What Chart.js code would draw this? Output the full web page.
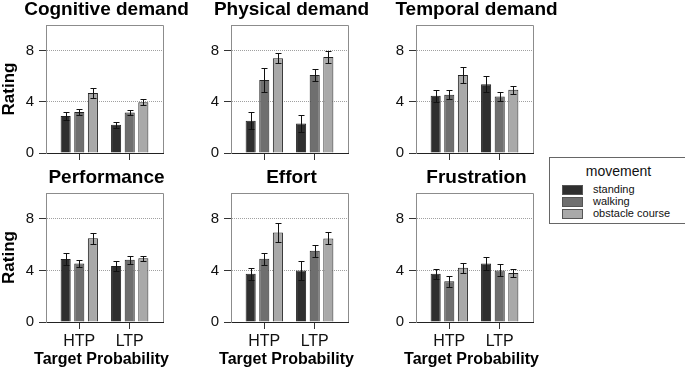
<!DOCTYPE html>
<html>
<head>
<meta charset="utf-8">
<script src="https://cdn.jsdelivr.net/npm/chart.js@4.4.1/dist/chart.umd.min.js"></script>
<style>
  body { margin: 0; background: #fff; font-family: 'Liberation Sans', Arial, sans-serif; }
  #wrap { position: relative; width: 685px; height: 370px; overflow: hidden; background: #fff; }
  #wrap canvas { position: absolute; }
  #legend { position: absolute; left: 549px; top: 157px; width: 140px; height: 67px; border: 1px solid #666; box-sizing: border-box; color: #111; }
  #legend .lt { position: absolute; left: 0; width: 137px; top: 5px; text-align: center; font-size: 14px; }
  #legend .item { position: absolute; left: 12px; font-size: 11px; line-height: 12px; }
  #legend .sw { position: absolute; left: 0; top: 2px; width: 19px; height: 8px; border: 1px solid #555; }
  #legend .txt { position: absolute; left: 31px; top: 0; white-space: nowrap; }
</style>
</head>
<body>
<div id="wrap">
  <div id="legend"><div class="lt">movement</div></div>
</div>
<script>
// categories
const groups = ['HTP', 'LTP'];
const movements = ['standing', 'walking', 'obstacle course'];
const colors = ['#2f2f2f', '#6f6f6f', '#a9a9a9'];
const titles = ['Cognitive demand', 'Physical demand', 'Temporal demand', 'Performance', 'Effort', 'Frustration'];
const yTicks = [0, 4, 8];

// means per movement [HTP, LTP]
const cognitiveMean = [[2.9, 2.2], [3.2, 3.17], [4.68, 3.97]];
const cognitiveErr = [[0.3, 0.23], [0.25, 0.22], [0.36, 0.25]];
const physicalMean = [[2.52, 2.31], [5.71, 6.1], [7.4, 7.5]];
const physicalErr = [[0.65, 0.65], [0.96, 0.5], [0.39, 0.43]];
const temporalMean = [[4.47, 5.38], [4.55, 4.42], [6.1, 4.94]];
const temporalErr = [[0.45, 0.6], [0.35, 0.36], [0.62, 0.3]];
const performanceMean = [[4.88, 4.34], [4.54, 4.83], [6.5, 4.95]];
const performanceErr = [[0.45, 0.35], [0.28, 0.31], [0.43, 0.19]];
const effortMean = [[3.74, 4.0], [4.9, 5.52], [6.94, 6.48]];
const effortErr = [[0.46, 0.72], [0.46, 0.47], [0.7, 0.46]];
const frustrationMean = [[3.74, 4.54], [3.15, 4.0], [4.2, 3.8]];
const frustrationErr = [[0.37, 0.49], [0.42, 0.46], [0.38, 0.3]];

const means = [cognitiveMean, physicalMean, temporalMean, performanceMean, effortMean, frustrationMean];
const errs = [cognitiveErr, physicalErr, temporalErr, performanceErr, effortErr, frustrationErr];

const FONT = "'Liberation Sans', Arial, sans-serif";
const plotLefts = [46, 231, 416];

// error bars drawn on top of the bars
const errorBars = {
  id: 'errorBars',
  afterDatasetsDraw(chart) {
    const ctx = chart.ctx, y = chart.scales.y;
    chart.data.datasets.forEach((ds, i) => {
      chart.getDatasetMeta(i).data.forEach((bar, j) => {
        const v = ds.data[j].y, e = ds.errors[j];
        const x = Math.round(bar.x) + 0.5;
        const hi = Math.round(y.getPixelForValue(v + e)) + 0.5;
        const lo = Math.round(y.getPixelForValue(v - e)) + 0.5;
        ctx.save();
        ctx.strokeStyle = '#111';
        ctx.lineWidth = 1;
        ctx.beginPath();
        ctx.moveTo(x, hi); ctx.lineTo(x, lo);
        ctx.moveTo(x - 3, hi); ctx.lineTo(x + 3, hi);
        ctx.moveTo(x - 3, lo); ctx.lineTo(x + 3, lo);
        ctx.stroke();
        ctx.restore();
      });
    });
  }
};

// gray box round the panel, strip title, x title
const frame = {
  id: 'frame',
  beforeDatasetsDraw(chart) {
    const { ctx, chartArea: a } = chart;
    ctx.save();
    ctx.strokeStyle = '#8c8c8c';
    ctx.lineWidth = 1;
    ctx.beginPath();
    ctx.moveTo(Math.round(a.left), Math.round(a.top) + 0.5);
    ctx.lineTo(Math.round(a.right) + 0.5, Math.round(a.top) + 0.5);
    ctx.lineTo(Math.round(a.right) + 0.5, a.bottom);
    ctx.stroke();
    ctx.restore();
  },
  afterDraw(chart, args, opts) {
    const { ctx, chartArea: a } = chart;
    const cx = (a.left + a.right) / 2;
    ctx.save();
    ctx.fillStyle = '#000';
    ctx.textAlign = 'center';
    ctx.font = 'bold 19px ' + FONT;
    ctx.textBaseline = 'alphabetic';
    ctx.fillText(opts.text, cx + 2, a.top - 10);
    if (opts.xTitle) {
      ctx.font = 'bold 16px ' + FONT;
      ctx.textBaseline = 'middle';
      ctx.fillText(opts.xTitle, cx - 3, a.bottom + 38);
    }
    ctx.restore();
  }
};

function makePanel(k) {
  const col = k % 3, row = Math.floor(k / 3);
  const bottomRow = row === 1;
  const canvas = document.createElement('canvas');
  const w = 190, h = bottomRow ? 202 : 168;
  canvas.width = w; canvas.height = h;
  canvas.style.left = (plotLefts[col] - 46) + 'px';
  canvas.style.top = (bottomRow ? 168 : 0) + 'px';
  canvas.style.width = w + 'px'; canvas.style.height = h + 'px';
  document.getElementById('wrap').appendChild(canvas);

  const plotH = bottomRow ? 129 : 128;
  const datasets = movements.map((m, i) => ({
    label: m,
    data: groups.map((g, j) => ({ x: j + 1, y: means[k][i][j] })),
    errors: errs[k][i],
    backgroundColor: colors[i],
    borderColor: '#222',
    borderWidth: 1,
    categoryPercentage: 0.81,
    barPercentage: 0.74
  }));

  new Chart(canvas, {
    type: 'bar',
    data: { datasets: datasets },
    options: {
      responsive: false,
      animation: false,
      layout: { padding: { top: 25, right: 27, left: 0, bottom: 0 } },
      plugins: {
        legend: { display: false },
        tooltip: { enabled: false },
        frame: { text: titles[k], xTitle: bottomRow ? 'Target Probability' : null }
      },
      scales: {
        x: {
          type: 'linear',
          offset: false,
          min: 0.34,
          max: 2.66,
          afterBuildTicks: s => { s.ticks = [{ value: 1 }, { value: 2 }]; },
          afterFit: s => { s.height = h - 25 - plotH; },
          ticks: {
            display: bottomRow,
            callback: v => groups[v - 1],
            color: '#111',
            padding: 3,
            maxRotation: 0,
            font: { family: FONT, size: 16 }
          },
          grid: { offset: false, drawOnChartArea: false, drawTicks: true, tickLength: 7, tickColor: '#333', lineWidth: 1 },
          border: { color: '#222', width: 1 }
        },
        y: {
          min: 0,
          max: 10,
          afterBuildTicks: s => { s.ticks = yTicks.map(v => ({ value: v })); },
          afterFit: s => { s.width = 46; },
          ticks: { color: '#111', padding: 5, font: { family: FONT, size: 15 } },
          grid: {
            color: c => (c.tick && c.tick.value === 0) ? 'rgba(0,0,0,0)' : '#a0a0a0',
            tickColor: '#333',
            tickLength: 7,
            lineWidth: 1
          },
          border: { color: '#8c8c8c', width: 1, dash: [1, 1] },
          title: {
            display: col === 0,
            text: 'Rating',
            color: '#000',
            padding: 0,
            font: { family: FONT, size: 17, weight: 'bold', lineHeight: 1.1 }
          }
        }
      }
    },
    plugins: [frame, errorBars]
  });
}

for (let k = 0; k < 6; k++) makePanel(k);

// legend
const legend = document.getElementById('legend');
movements.forEach((m, i) => {
  const item = document.createElement('div');
  item.className = 'item';
  item.style.top = (25 + i * 12) + 'px';
  item.innerHTML = '<span class="sw" style="background:' + colors[i] + '"></span><span class="txt">' + m + '</span>';
  legend.appendChild(item);
});
</script>
</body>
</html>
